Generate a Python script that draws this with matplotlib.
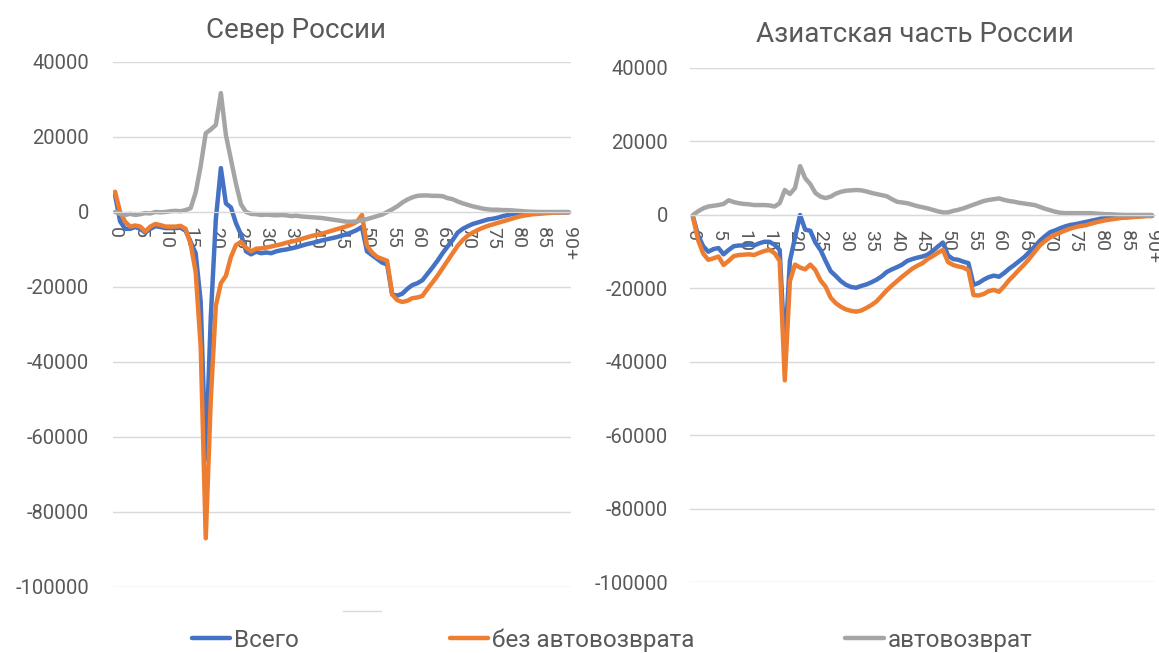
import matplotlib
matplotlib.use("Agg")
import matplotlib.pyplot as plt
from matplotlib.lines import Line2D

plt.rcParams['font.family'] = ['Roboto', 'DejaVu Sans']
plt.rcParams['axes.unicode_minus'] = False

# возраст: 0..89 и 90+
ages = [str(a) for a in range(90)] + ["90+"]

# Север России
north_total = [
    4500, -2500, -4500, -4500, -4000, -4500, -5500, -4500, -3800, -4000,
    -4300, -4300, -4300, -4200, -5000, -8000, -11000, -24000, -66000, -28000,
    -2000, 11700, 2300, 1200, -3000, -6000, -10500, -11300, -10600, -11000,
    -10800, -11000, -10500, -10200, -10000, -9700, -9400, -9000, -8600, -8300,
    -8000, -7600, -7300, -7000, -6700, -6300, -5900, -5400, -4800, -4000,
    -10500, -11500, -12500, -13500, -14000, -22000, -22300, -21800, -20500, -19500,
    -19000, -18200, -16500, -14800, -13000, -11000, -9200, -7500, -5500, -4500,
    -3800, -3200, -2800, -2400, -2000, -1800, -1500, -1100, -800, -500,
    -300, -200, -100, -100, -100, -100, -100, -100, -100, -100,
    -100,
]
north_no_auto = [
    5400, 0, -2600, -3900, -3600, -3900, -5200, -3900, -3200, -3500,
    -3900, -3900, -3900, -3700, -4500, -8500, -16000, -36000, -87000, -50000,
    -25000, -19000, -17000, -12000, -8800, -8000, -9500, -10500, -9800, -9700,
    -9500, -9200, -8900, -8600, -8200, -7900, -7600, -7200, -6800, -6400,
    -6100, -5800, -5400, -5000, -4600, -4200, -3800, -3300, -2600, -800,
    -9000, -10800, -12000, -12500, -13000, -22000, -23500, -24000, -23700, -23000,
    -22800, -22400, -20500, -18800, -17000, -15000, -13000, -11000, -9000, -7500,
    -6300, -5500, -4800, -4200, -3700, -3300, -2900, -2500, -2100, -1700,
    -1300, -1000, -800, -600, -500, -400, -300, -200, -150, -100,
    -100,
]
north_auto = [
    0, -500, -800, -500, -800, -600, -300, -400, 0, -100,
    0, 200, 300, 200, 500, 1000, 5200, 12300, 21000, 22000,
    23200, 31700, 20500, 14000, 7500, 2000, 0, -500, -600, -800,
    -700, -800, -900, -800, -900, -1100, -1000, -1200, -1300, -1400,
    -1500, -1600, -1800, -2000, -2200, -2400, -2600, -2600, -2500, -2200,
    -1900, -1500, -1100, -700, 0, 700, 1500, 2500, 3300, 3900,
    4300, 4400, 4400, 4300, 4300, 4200, 3700, 3400, 2800, 2300,
    1900, 1500, 1200, 900, 700, 600, 600, 500, 500, 400,
    300, 200, 100, 50, 0, 0, 0, 0, 0, 0,
    0,
]

# Азиатская часть России
asia_total = [
    -500, -5500, -8500, -10000, -9300, -9000, -10700, -9500, -8500, -8300,
    -8300, -8000, -8300, -7700, -7300, -7300, -8100, -9500, -37000, -12500,
    -6200, 0, -4000, -4300, -7500, -9500, -12500, -15300, -16600, -18000,
    -19000, -19600, -19800, -19300, -18900, -18300, -17600, -16700, -15500, -14800,
    -14200, -13500, -12500, -12000, -11600, -11300, -10800, -9800, -8600, -7500,
    -11000, -12000, -12200, -12700, -13100, -19000, -18500, -17600, -16900, -16500,
    -16800, -15800, -14600, -13600, -12500, -11400, -10000, -8600, -7000, -5800,
    -4700, -4200, -3600, -3100, -2700, -2500, -2200, -1900, -1600, -1300,
    -1000, -900, -800, -700, -600, -600, -500, -400, -300, -200,
    -200,
]
asia_no_auto = [
    -500, -6800, -10500, -12200, -11800, -11300, -13600, -12500, -11200, -10900,
    -10800, -10700, -10900, -10300, -9800, -9500, -10400, -12500, -45000, -18000,
    -13500, -14300, -14800, -13500, -15000, -17800, -19500, -22500, -24000, -25000,
    -25700, -26100, -26300, -26000, -25300, -24500, -23500, -22000, -20500, -19200,
    -18000, -16800, -15700, -14600, -13800, -13100, -12000, -11200, -10300, -9500,
    -12800, -13600, -14000, -14300, -15000, -21800, -21900, -21500, -20700, -20400,
    -20900, -19400, -17700, -16300, -14800, -13400, -11800, -10000, -8300, -7100,
    -6100, -5400, -4800, -4200, -3700, -3300, -3000, -2800, -2400, -2000,
    -1700, -1400, -1200, -1000, -800, -700, -600, -500, -400, -300,
    -300,
]
asia_auto = [
    0, 1000, 1800, 2300, 2500, 2700, 3000, 4000, 3500, 3200,
    3000, 2900, 2700, 2700, 2700, 2600, 2300, 3200, 6800, 5700,
    7300, 13300, 10000, 8400, 6000, 5000, 4600, 5000, 5800, 6300,
    6600, 6700, 6800, 6700, 6400, 6000, 5700, 5400, 5100, 4300,
    3600, 3400, 3200, 2800, 2400, 2100, 1800, 1400, 1000, 700,
    700, 1100, 1400, 1800, 2300, 2800, 3300, 3800, 4100, 4300,
    4500, 4100, 3800, 3600, 3300, 3100, 2900, 2700, 2200, 1700,
    1300, 900, 600, 500, 500, 500, 500, 500, 500, 400,
    300, 200, 200, 100, 50, 0, 0, 0, 0, 0,
    0,
]

titles = ["Север России", "Азиатская часть России"]
series_names = ["Всего", "без автовозврата", "автовозврат"]
colors = ["#4472C4", "#ED7D31", "#A5A5A5"]
yticks = list(range(-100000, 40001, 20000))
text_color = "#595959"


def draw(ax, total, no_auto, auto, ypad):
    x = list(range(len(ages)))
    lines = []
    for vals, c, name in zip([total, no_auto, auto], colors, series_names):
        ln, = ax.plot(x, vals, color=c, lw=3.2, label=name,
                      solid_joinstyle="round", solid_capstyle="round")
        lines.append(ln)
    ax.set_xlim(-0.5, len(ages) - 0.5)
    ax.set_ylim(-100000, 40000)
    ax.spines["bottom"].set_position(("data", 0))
    ax.spines["bottom"].set_color("#D9D9D9")
    for s in ["top", "right", "left"]:
        ax.spines[s].set_visible(False)
    ax.set_yticks(yticks)
    ax.set_xticks(x[::5])
    ax.set_xticklabels(ages[::5])
    ax.grid(axis="y", color="#D9D9D9", lw=1)
    ax.set_axisbelow(True)
    ax.tick_params(axis="x", length=0, pad=11, labelsize=14,
                   labelcolor=text_color, labelrotation=270)
    ax.tick_params(axis="y", length=0, pad=ypad, labelsize=14.5, labelcolor=text_color)
    return lines


fig = plt.figure(figsize=(11.59, 6.53), dpi=100)
ax1 = fig.add_axes([0.0971, 0.1011, 0.3956, 0.8040])
ax2 = fig.add_axes([0.5957, 0.1080, 0.4005, 0.7879])

handles = draw(ax1, north_total, north_no_auto, north_auto, 17)
draw(ax2, asia_total, asia_no_auto, asia_auto, 16)

fig.text(296 / 1159, 1 - 30 / 653, titles[0], ha="center", va="center",
         fontsize=20, color=text_color)
fig.text(915 / 1159, 1 - 35 / 653, titles[1], ha="center", va="center",
         fontsize=20, color=text_color)

fig.legend(handles, series_names, loc="center", bbox_to_anchor=(612 / 1159, 1 - 640 / 653),
           ncol=3, frameon=False, fontsize=17.5, labelcolor=text_color,
           handlelength=1.6, handletextpad=0.15, columnspacing=6.2)

# короткий серый штрих под левой диаграммой
fig.add_artist(Line2D([343 / 1159, 381 / 1159], [1 - 611 / 653] * 2, color="#D9D9D9", lw=1))

fig.savefig("out.png", dpi=100)
